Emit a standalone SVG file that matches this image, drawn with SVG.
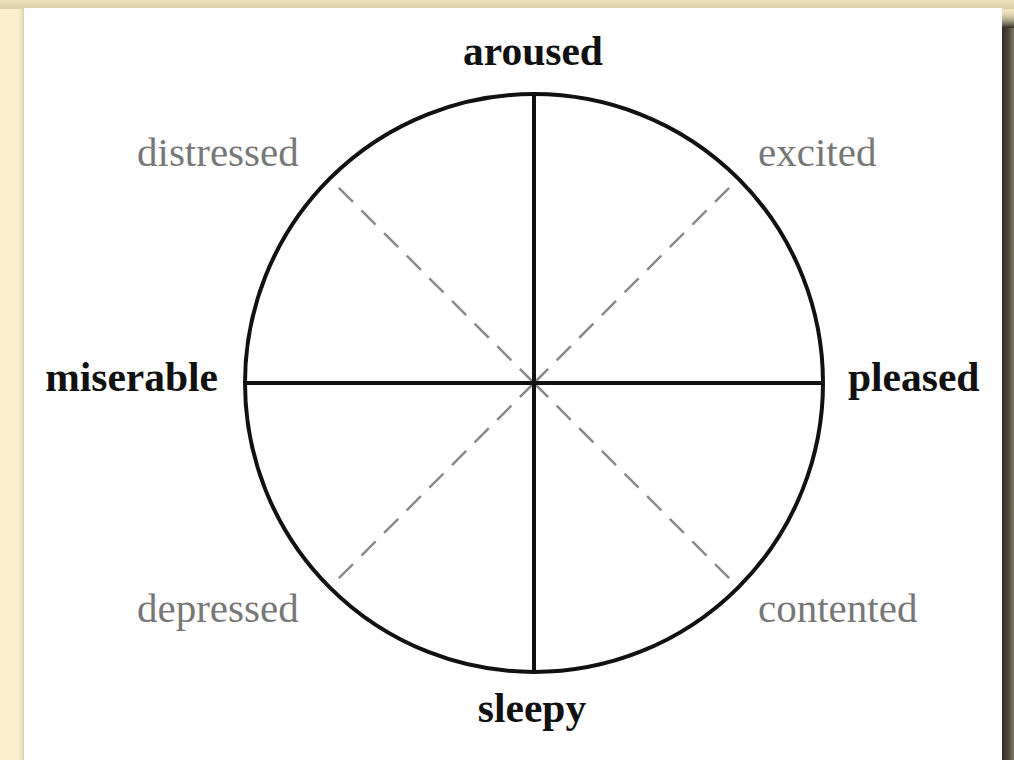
<svg xmlns="http://www.w3.org/2000/svg" width="1014" height="760" viewBox="0 0 1014 760">
<defs>
<linearGradient id="bg" x1="0" y1="0" x2="1" y2="0">
<stop offset="0" stop-color="#f8efcd"/>
<stop offset="1" stop-color="#efe4bd"/>
</linearGradient>
<linearGradient id="top" x1="0" y1="0" x2="0" y2="1">
<stop offset="0" stop-color="#ece2bd"/>
<stop offset="1" stop-color="#d9cea7"/>
</linearGradient>
<linearGradient id="right" x1="0" y1="0" x2="1" y2="0">
<stop offset="0" stop-color="#2f2d24"/>
<stop offset="0.5" stop-color="#4a4638"/>
<stop offset="1" stop-color="#7f7966"/>
</linearGradient>
<linearGradient id="tr" x1="0" y1="0" x2="0" y2="1">
<stop offset="0" stop-color="#d6ccaa" stop-opacity="0"/>
<stop offset="1" stop-color="#2f2d24" stop-opacity="1"/>
</linearGradient>
<linearGradient id="left" x1="0" y1="0" x2="1" y2="0">
<stop offset="0" stop-color="#f8efcd" stop-opacity="0"/>
<stop offset="1" stop-color="#d8cea8"/>
</linearGradient>
<style>
.bold{font-family:"Liberation Serif","Times New Roman",serif;font-weight:bold;font-size:41.5px;fill:#111}
.grey{font-family:"Liberation Serif","Times New Roman",serif;font-size:41px;fill:#777}
.axis{stroke:#111;stroke-width:4;fill:none}
.dash{stroke:#8a8a8a;stroke-width:2.5;stroke-dasharray:20 12;fill:none}
</style>
</defs>
<rect width="1014" height="760" fill="url(#bg)"/>
<rect x="0" y="0" width="1014" height="9" fill="url(#top)"/>
<rect x="18" y="8" width="6" height="752" fill="url(#left)"/>
<rect x="1002" y="28" width="12" height="732" fill="url(#right)"/>
<rect x="1002" y="10" width="12" height="18" fill="url(#tr)"/>
<g id="card">
<rect x="24" y="8" width="978" height="760" fill="#ffffff"/>
</g>
<g id="connectors">
<line class="dash" x1="534" y1="383" x2="330" y2="179"/>
<line class="dash" x1="534" y1="383" x2="738" y2="179"/>
<line class="dash" x1="534" y1="383" x2="330" y2="587"/>
<line class="dash" x1="534" y1="383" x2="738" y2="587"/>
<line class="axis" x1="534" y1="94" x2="534" y2="672"/>
<line class="axis" x1="245" y1="383" x2="823" y2="383"/>
</g>
<g id="circle"><circle class="axis" cx="534" cy="383" r="289"/></g>
<g id="aroused"><text class="bold" x="533" y="65" text-anchor="middle">aroused</text></g>
<g id="sleepy"><text class="bold" x="532" y="722" text-anchor="middle">sleepy</text></g>
<g id="miserable"><text class="bold" x="218" y="391" text-anchor="end">miserable</text></g>
<g id="pleased"><text class="bold" x="848" y="391">pleased</text></g>
<g id="distressed"><text class="grey" x="137" y="166">distressed</text></g>
<g id="excited"><text class="grey" x="758" y="166">excited</text></g>
<g id="depressed"><text class="grey" x="137" y="622">depressed</text></g>
<g id="contented"><text class="grey" x="758" y="622">contented</text></g>
</svg>
